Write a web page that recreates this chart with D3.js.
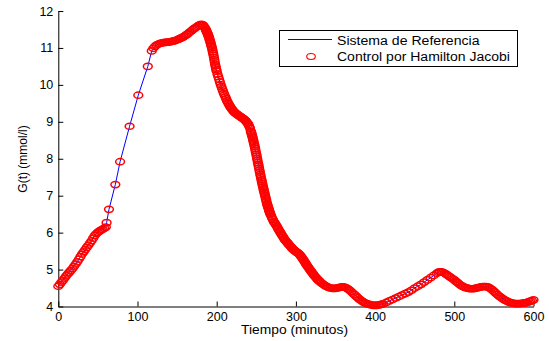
<!DOCTYPE html>
<html>
<head>
<meta charset="utf-8">
<script src="https://cdn.jsdelivr.net/npm/d3@7"></script>
<style>
  body { margin: 0; background: #fff; }
  text { font-family: "Liberation Sans", Arial, Helvetica, sans-serif; fill: #000; }
</style>
</head>
<body>
<script>
// datos (tiempo en minutos, glucosa en mmol/l)
var tiempo = [
  0, 2, 4, 6, 8, 10, 12, 14, 16, 18, 20, 22, 24, 26, 28, 30, 32, 34, 36, 38, 40,
  42, 44, 46, 48, 50, 52, 54, 56, 58, 60,
  61, 64, 72, 78, 90, 101, 113,
  118, 120, 122, 124, 126, 128, 130, 132, 134, 136, 138, 140, 142, 144, 146, 148,
  150, 152, 154, 156, 158, 160, 162, 164, 166, 168, 170, 172, 174, 176, 178, 180, 182,
  183, 184, 185, 186, 186.5, 187, 187.5, 188, 188.5, 189, 189.5, 190, 190.5, 191,
  191.5, 192, 192.5, 193, 193.5, 194, 194.5, 195, 195.5, 196, 196.5, 197, 197.5, 198,
  198.5, 199, 199.5, 200, 201,
  202, 203, 204, 205, 206, 207, 208, 209, 210, 211,
  212, 213, 214, 215, 216, 217, 218, 219, 220, 221,
  222, 223, 224, 225, 226, 227, 228, 229, 230, 231,
  232, 233, 234, 235, 236, 237, 238, 239, 240, 241,
  242,
  243, 243.5, 244, 244.5, 245, 245.5, 246, 246.5, 247, 247.5, 248, 248.5, 249, 249.5,
  250, 250.5, 251, 251.5, 252, 252.5, 253, 253.5, 254, 254.5, 255, 255.5, 256, 256.5,
  257, 257.5, 258, 258.5, 259, 259.5, 260, 260.5, 261, 261.5, 262, 262.5, 263, 263.5,
  264, 264.5, 265, 265.5, 266, 266.5, 267, 267.5, 268, 269, 270, 271,
  272, 273, 274, 275, 276, 277, 278, 279, 280, 281,
  282, 283, 284, 285, 286, 287, 288, 289, 290, 291,
  292, 293, 294, 295, 296, 297, 298, 299, 300, 301,
  302, 303, 304, 305, 306, 307, 308, 309, 310, 311,
  312, 313, 314, 315, 316, 317, 318, 319, 320, 321,
  322, 323, 324, 325, 326, 327, 328, 329, 330,
  332, 334, 336, 338, 340, 342, 344, 346, 348, 350,
  352, 354, 356, 358, 360, 362, 364, 366, 368, 370,
  372, 374, 376, 378, 380, 382, 384, 386, 388, 390,
  392, 394, 396, 398, 400,
  402, 404, 406, 408, 410,
  414, 418, 422, 426, 430, 434, 438, 442, 446, 450, 454, 458, 462, 466, 470, 474,
  478, 480, 482, 484, 486, 488, 490, 492, 494, 496,
  498, 500, 502, 504, 506, 508, 510, 512, 514, 516,
  518, 520, 522, 524, 526, 528, 530, 532, 534, 536,
  538, 540, 542, 544, 546, 548, 550, 552, 554, 556,
  558, 560, 562, 564, 566, 568, 570, 572, 574, 576,
  578, 580, 582, 584, 586, 588, 590, 592, 594, 596,
  598, 600
];

var glucosa = [
  4.55, 4.60, 4.66, 4.71, 4.77, 4.83, 4.88, 4.93, 4.98, 5.03, 5.09, 5.15, 5.21, 5.28,
  5.35, 5.42, 5.48, 5.54, 5.60, 5.66, 5.72, 5.78, 5.85, 5.92, 5.97, 6.01, 6.04, 6.07,
  6.09, 6.12, 6.15,
  6.27, 6.63, 7.30, 7.92, 8.88, 9.72, 10.50,
  10.92, 10.99, 11.04, 11.08, 11.10, 11.12, 11.13, 11.14, 11.15, 11.15, 11.16, 11.16,
  11.17, 11.18, 11.19, 11.20, 11.22, 11.24, 11.26, 11.28, 11.30, 11.33, 11.36, 11.39,
  11.43, 11.46, 11.50, 11.53, 11.56, 11.59, 11.62, 11.64, 11.63,
  11.61, 11.58, 11.55, 11.51, 11.49, 11.46, 11.44, 11.41, 11.39, 11.36, 11.33, 11.30,
  11.27, 11.23, 11.20, 11.16, 11.12, 11.08, 11.04, 11.00, 10.95, 10.90, 10.85, 10.80,
  10.74, 10.68, 10.62, 10.56, 10.51, 10.46, 10.41, 10.37, 10.29,
  10.22, 10.15, 10.08, 10.01, 9.95, 9.89, 9.83, 9.77, 9.72, 9.67,
  9.62, 9.57, 9.53, 9.49, 9.45, 9.41, 9.38, 9.35, 9.32, 9.29,
  9.27, 9.25, 9.23, 9.21, 9.20, 9.18, 9.17, 9.15, 9.14, 9.12,
  9.11, 9.09, 9.08, 9.06, 9.04, 9.02, 8.99, 8.96, 8.93, 8.88,
  8.83,
  8.75, 8.72, 8.68, 8.64, 8.60, 8.56, 8.51, 8.47, 8.42, 8.38, 8.33, 8.28, 8.22, 8.17,
  8.12, 8.07, 8.01, 7.96, 7.90, 7.85, 7.80, 7.75, 7.69, 7.64, 7.58, 7.53, 7.48, 7.43,
  7.38, 7.33, 7.28, 7.24, 7.19, 7.15, 7.10, 7.06, 7.01, 6.97, 6.92, 6.88, 6.83, 6.79,
  6.75, 6.72, 6.68, 6.65, 6.61, 6.58, 6.55, 6.52, 6.49, 6.44, 6.39, 6.35,
  6.30, 6.27, 6.24, 6.20, 6.17, 6.13, 6.09, 6.05, 6.02, 5.98,
  5.95, 5.91, 5.88, 5.84, 5.81, 5.78, 5.76, 5.73, 5.71, 5.68,
  5.66, 5.63, 5.61, 5.58, 5.56, 5.54, 5.52, 5.50, 5.49, 5.47,
  5.46, 5.44, 5.42, 5.40, 5.37, 5.34, 5.31, 5.28, 5.25, 5.21,
  5.18, 5.14, 5.11, 5.08, 5.05, 5.02, 4.99, 4.96, 4.93, 4.90,
  4.87, 4.84, 4.82, 4.79, 4.77, 4.74, 4.72, 4.70, 4.68,
  4.64, 4.61, 4.58, 4.55, 4.53, 4.51, 4.50, 4.49, 4.49, 4.49,
  4.50, 4.51, 4.52, 4.53, 4.53, 4.52, 4.50, 4.47, 4.44, 4.40,
  4.36, 4.32, 4.28, 4.24, 4.20, 4.17, 4.14, 4.11, 4.09, 4.07,
  4.06, 4.05, 4.04, 4.03, 4.03,
  4.03, 4.04, 4.05, 4.06, 4.07,
  4.11, 4.15, 4.19, 4.23, 4.27, 4.31, 4.35, 4.39, 4.44, 4.50, 4.55, 4.60, 4.66, 4.72,
  4.78, 4.84,
  4.90, 4.93, 4.94, 4.94, 4.92, 4.90, 4.87, 4.84, 4.81, 4.78,
  4.75, 4.72, 4.68, 4.65, 4.61, 4.58, 4.55, 4.53, 4.51, 4.50,
  4.49, 4.48, 4.48, 4.48, 4.49, 4.50, 4.51, 4.52, 4.53, 4.54,
  4.54, 4.54, 4.53, 4.51, 4.48, 4.45, 4.41, 4.37, 4.33, 4.29,
  4.26, 4.23, 4.20, 4.17, 4.15, 4.13, 4.11, 4.10, 4.09, 4.08,
  4.08, 4.08, 4.08, 4.08, 4.09, 4.09, 4.10, 4.11, 4.13, 4.14,
  4.16, 4.18
];

var ticksX = [0, 100, 200, 300, 400, 500, 600];
var ticksY = [4, 5, 6, 7, 8, 9, 10, 11, 12];
var nombresSeries = ["Sistema de Referencia", "Control por Hamilton Jacobi"];

var svgWidth = 549;
var svgHeight = 341;

var svg = d3.select("body")
  .append("svg")
  .attr("width", svgWidth)
  .attr("height", svgHeight);

// escalas
var xScale = d3.scaleLinear()
  .domain([0, 600])
  .range([58.3, 533.5]);

var yScale = d3.scaleLinear()
  .domain([4, 12])
  .range([306.5, 11]);

var puntos = tiempo.map(function (t, i) {
  return { t: t, g: glucosa[i] };
});

// ejes con marcas hacia dentro (estilo matlab)
var bottomAxis = d3.axisBottom(xScale)
  .tickValues(ticksX)
  .tickSizeInner(-5)
  .tickSizeOuter(0)
  .tickPadding(5.5);

var leftAxis = d3.axisLeft(yScale)
  .tickValues(ticksY)
  .tickSizeInner(-5)
  .tickSizeOuter(0)
  .tickPadding(5);

var gx = svg.append("g")
  .attr("transform", `translate(0, ${yScale(4)})`)
  .call(bottomAxis);

var gy = svg.append("g")
  .attr("transform", `translate(${xScale(0)}, 0)`)
  .call(leftAxis);

[gx, gy].forEach(function (g) {
  g.selectAll("path, line").attr("stroke", "#000").attr("stroke-width", 1);
  g.selectAll("text")
    .attr("fill", "#000")
    .style("font-size", "12.5px")
    .style("font-family", "'Liberation Sans', Arial, sans-serif");
});

// linea de referencia
var linea = d3.line()
  .x(d => xScale(d.t))
  .y(d => yScale(d.g));

svg.append("path")
  .datum(puntos)
  .attr("d", linea)
  .attr("fill", "none")
  .attr("stroke", "#0000ff")
  .attr("stroke-width", 1);

// marcadores del control
svg.append("g")
  .selectAll("ellipse")
  .data(puntos)
  .enter()
  .append("ellipse")
  .attr("cx", d => xScale(d.t))
  .attr("cy", d => yScale(d.g))
  .attr("rx", 4.4)
  .attr("ry", 3.1)
  .attr("fill", "none")
  .attr("stroke", "#ff0000")
  .attr("stroke-width", 1.5);

// titulos de los ejes
svg.append("text")
  .attr("x", 294.5)
  .attr("y", 334)
  .attr("text-anchor", "middle")
  .style("font-size", "12.5px")
  .attr("textLength", 107)
  .attr("lengthAdjust", "spacingAndGlyphs")
  .text("Tiempo (minutos)");

svg.append("text")
  .attr("transform", "translate(26.5, 159) rotate(-90)")
  .attr("text-anchor", "middle")
  .style("font-size", "12px")
  .text("G(t) (mmol/l)");

// leyenda
var legend = svg.append("g");

legend.append("rect")
  .attr("x", 279.5)
  .attr("y", 30.5)
  .attr("width", 238)
  .attr("height", 36)
  .attr("fill", "#fff")
  .attr("stroke", "#000")
  .attr("stroke-width", 1);

legend.append("line")
  .attr("x1", 288)
  .attr("x2", 332)
  .attr("y1", 39.5)
  .attr("y2", 39.5)
  .attr("stroke", "#0000ff")
  .attr("stroke-width", 1);

legend.append("ellipse")
  .attr("cx", 311)
  .attr("cy", 56.5)
  .attr("rx", 4.3)
  .attr("ry", 3)
  .attr("fill", "none")
  .attr("stroke", "#ff0000")
  .attr("stroke-width", 1.1);

legend.selectAll("text.serie")
  .data(nombresSeries)
  .enter()
  .append("text")
  .attr("class", "serie")
  .attr("x", 337)
  .attr("y", (d, i) => 44.5 + i * 16.5)
  .style("font-size", "12.5px")
  .attr("textLength", (d, i) => i == 0 ? 142.5 : 173)
  .attr("lengthAdjust", "spacingAndGlyphs")
  .text(d => d);
</script>
</body>
</html>
